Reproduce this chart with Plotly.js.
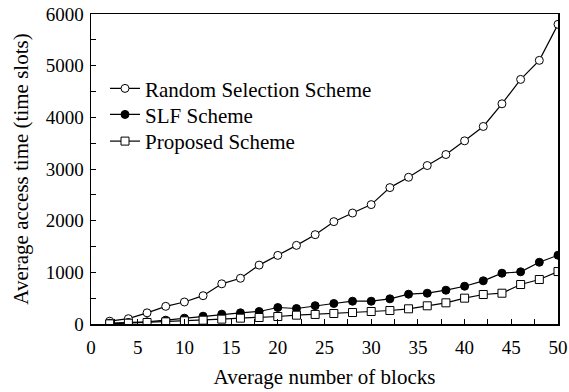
<!DOCTYPE html>
<html>
<head>
<meta charset="utf-8">
<script src="https://cdn.plot.ly/plotly-3.0.1.min.js"></script>
<style>html,body{margin:0;padding:0;background:#fff;}#chart{width:569px;height:392px;}</style>
</head>
<body>
<div id="chart"></div>
<script>
var blocks = [2,4,6,8,10,12,14,16,18,20,22,24,26,28,30,32,34,36,38,40,42,44,46,48,50];
var randomScheme = [55,103,216,342,426,548,778,885,1140,1328,1522,1729,1981,2148,2311,2640,2840,3067,3280,3545,3823,4262,4734,5103,5800];
var slfScheme = [16,29,42,74,113,151,190,216,242,319,300,355,397,441,441,487,577,596,654,731,836,983,1010,1195,1331];
var proposedScheme = [3,16,29,42,61,74,94,113,126,145,171,185,203,222,242,261,294,352,410,500,571,596,764,861,1015];
var seriesNames = ["Random Selection Scheme","SLF Scheme","Proposed Scheme"];
var xTitle = "Average number of blocks";
var yTitle = "Average access time (time slots)";

var font = "'Liberation Serif', serif";
function tr(y, name, symbol, fill, leg) {
  return {
    x: blocks, y: y, name: name, type: "scatter", mode: "lines+markers", legend: leg,
    line: {color: "#000", width: 1.2},
    marker: {symbol: symbol, size: 8, color: fill, line: {color: "#000", width: 1}}
  };
}
var data = [
  tr(randomScheme, seriesNames[0], "circle", "#fff", "legend"),
  tr(slfScheme, seriesNames[1], "circle", "#000", "legend2"),
  tr(proposedScheme, seriesNames[2], "square", "#fff", "legend3")
];
function leg(y) {
  return {x: 0.03, y: y, xanchor: "left", yanchor: "top", bgcolor: "rgba(0,0,0,0)",
          font: {family: font, size: 21, color: "#000"}};
}
var axisCommon = {
  showgrid: false, zeroline: false, showline: true, linecolor: "#000", linewidth: 1.5,
  mirror: true, ticks: "inside", ticklen: 5, tickwidth: 1, tickcolor: "#000",
  tickfont: {family: font, size: 19, color: "#000"}
};
var layout = {
  width: 569, height: 392,
  margin: {l: 91, r: 11, t: 14, b: 67.5},
  paper_bgcolor: "#fff", plot_bgcolor: "#fff",
  font: {family: font, color: "#000"},
  showlegend: true,
  legend: leg(0.825),
  legend2: leg(0.741),
  legend3: leg(0.655),
  xaxis: Object.assign({}, axisCommon, {
    range: [0, 50], dtick: 5, tick0: 0, ticklabelstandoff: 6,
    minor: {dtick: 2.5, ticks: "inside", ticklen: 5, tickcolor: "#000", tickwidth: 1},
    title: {text: xTitle, font: {family: font, size: 21, color: "#000"}, standoff: 12}
  }),
  yaxis: Object.assign({}, axisCommon, {
    range: [0, 6000], dtick: 1000, tick0: 0, ticklabelstandoff: 2,
    minor: {dtick: 500, ticks: "inside", ticklen: 5, tickcolor: "#000", tickwidth: 1},
    title: {text: yTitle, font: {family: font, size: 21, color: "#000"}, standoff: 11}
  })
};
Plotly.newPlot("chart", data, layout, {displayModeBar: false, staticPlot: true});
</script>
</body>
</html>
